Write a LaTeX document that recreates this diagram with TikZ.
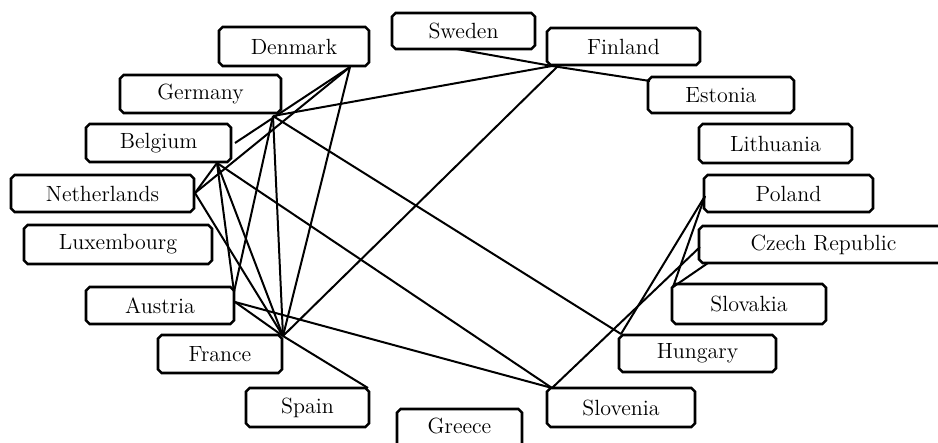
\documentclass[tikz,border=0pt]{standalone}
\usetikzlibrary{shapes.misc}
\begin{document}
\begin{tikzpicture}[x=0.5pt,y=-0.5pt,
  box/.style={draw, line width=1.3pt, fill=white, chamfered rectangle,
    chamfered rectangle xsep=0.9pt, chamfered rectangle ysep=0.9pt,
    inner sep=0pt, font=\fontsize{11}{13}\selectfont},
  edge/.style={line width=1pt}]
\useasboundingbox (0,0) rectangle (938,443);
% boxes
\node[box, minimum width=71.5pt, minimum height=18pt] (se) at (463.5,31) {Sweden};
\node[box, minimum width=75pt, minimum height=19.5pt] (dk) at (294,46.5) {Denmark};
\node[box, minimum width=76.5pt, minimum height=18.5pt] (fi) at (623.5,46.5) {Finland};
\node[box, minimum width=80.5pt, minimum height=19pt] (de) at (200.5,94) {Germany};
\node[box, minimum width=73pt, minimum height=18pt] (ee) at (721,95) {Estonia};
\node[box, minimum width=72.5pt, minimum height=19pt] (be) at (158.5,143) {Belgium};
\node[box, minimum width=76.5pt, minimum height=19.5pt] (lt) at (775.5,143.5) {Lithuania};
\node[box, minimum width=91.5pt, minimum height=18.5pt] (nl) at (102.5,193.5) {Netherlands};
\node[box, minimum width=84.5pt, minimum height=18.5pt] (pl) at (788.5,193.5) {Poland};
\node[box, minimum width=94pt, minimum height=19.5pt] (lu) at (118,244.5) {Luxembourg};
\node[box, minimum width=124.5pt, minimum height=18.5pt] (cz) at (823.5,244.5) {Czech Republic};
\node[box, minimum width=74pt, minimum height=18.5pt] (at) at (160,305.5) {Austria};
\node[box, minimum width=77pt, minimum height=20pt] (sk) at (749,304) {Slovakia};
\node[box, minimum width=62pt, minimum height=19pt] (fr) at (220,354) {France};
\node[box, minimum width=78.5pt, minimum height=18.5pt] (hu) at (697.5,353.5) {Hungary};
\node[box, minimum width=74pt, minimum height=19.5pt] (si) at (621,407.5) {Slovenia};
\node[box, minimum width=61.5pt, minimum height=19.5pt] (es) at (307.5,407.5) {Spain};
\node[box, minimum width=62.5pt, minimum height=23pt, text depth=6pt] (gr) at (459.5,432) {Greece};
% anchor points
\coordinate (seA) at (457,49);
\coordinate (fiA) at (552,66);
\coordinate (fiB) at (557,67);
\coordinate (eeA) at (650,81);
\coordinate (dkA) at (350,67);
\coordinate (deA) at (273,116);
\coordinate (beR) at (235,143);
\coordinate (beB) at (217,163);
\coordinate (nlA) at (195,193);
\coordinate (atA) at (234,292);
\coordinate (atB) at (235,302);
\coordinate (frA) at (283,336);
\coordinate (esA) at (368,388);
\coordinate (siA) at (552,388);
\coordinate (huA) at (621,334);
\coordinate (plA) at (705,196);
\coordinate (czL) at (700,247);
\coordinate (czB) at (708,263);
\coordinate (skA) at (673,287);
% edges
\draw[edge] (seA) -- (fiA);
\draw[edge] (fiA) -- (eeA);
\draw[edge] (fiA) -- (deA);
\draw[edge] (fiB) -- (frA);
\draw[edge] (dkA) -- (beR);
\draw[edge] (dkA) -- (nlA);
\draw[edge] (dkA) -- (frA);
\draw[edge] (deA) -- (atA);
\draw[edge] (deA) -- (frA);
\draw[edge] (deA) -- (huA);
\draw[edge] (beB) -- (nlA);
\draw[edge] (beB) -- (atA);
\draw[edge] (beB) -- (frA);
\draw[edge] (beB) -- (siA);
\draw[edge] (nlA) -- (frA);
\draw[edge] (atB) -- (frA);
\draw[edge] (atB) -- (siA);
\draw[edge] (frA) -- (esA);
\draw[edge] (siA) -- (czL);
\draw[edge] (huA) -- (plA);
\draw[edge] (skA) -- (plA);
\draw[edge] (skA) -- (czB);
\end{tikzpicture}
\end{document}
